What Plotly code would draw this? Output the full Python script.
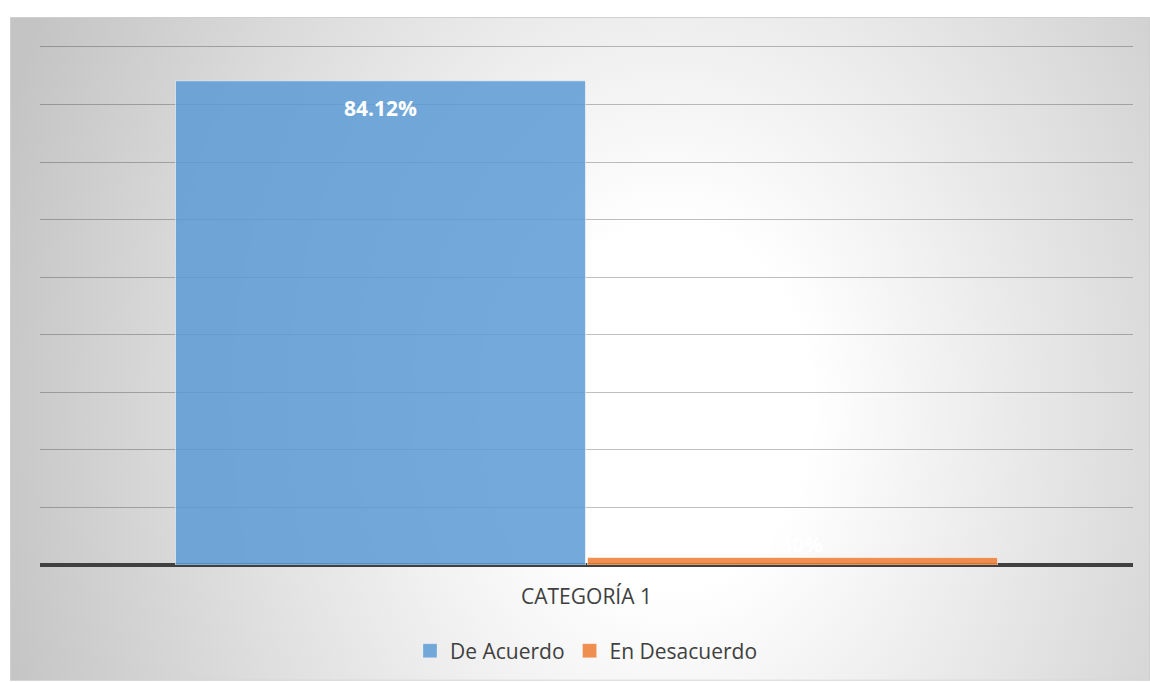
import base64
import plotly.graph_objects as go

categories = ["CATEGORÍA 1"]
series_names = ["De Acuerdo", "En Desacuerdo"]
de_acuerdo = [84.12]
en_desacuerdo = [1.30]
label_texts = ["84.12%", "1.30%"]
colors = ["rgba(91,155,213,0.85)", "rgba(237,125,49,0.85)"]

W, H = 1150, 682
ML, MR, MT, MB = 40, 17, 44, 116
PW, PH = W - ML - MR, H - MT - MB
Y_MAX = 90.52

BARGAP = 0.246
BARGROUPGAP = 0.005
FONT = "Open Sans"

fig = go.Figure()
for name, vals, col in zip(series_names, [de_acuerdo, en_desacuerdo], colors):
    fig.add_trace(go.Bar(
        x=categories, y=vals, name=name, legendgroup=name, showlegend=False,
        marker=dict(color=col, line=dict(color="rgba(255,255,255,0.55)", width=1)),
        hoverinfo="skip",
    ))
# legend entries with square swatches
for name, col in zip(series_names, colors):
    fig.add_trace(go.Scatter(
        x=[None], y=[None], mode="markers", name=name, legendgroup=name,
        marker=dict(symbol="square", size=14, color=col,
                    line=dict(color="rgba(255,255,255,0.5)", width=0.5)),
        hoverinfo="skip",
    ))

# data labels
slot = (1 - BARGAP) / 2
for i, (vals, txt) in enumerate(zip([de_acuerdo, en_desacuerdo], label_texts)):
    xc = -0.5 * (1 - BARGAP) + slot * (i + 0.5)
    big = vals[0] > 10
    fig.add_annotation(
        x=xc, y=vals[0], xref="x", yref="y", text=txt, showarrow=False,
        yanchor="middle", yshift=-27 if big else 14,
        font=dict(family=FONT, size=21, color="white", weight="bold"),
    )

# background radial gradient (chart area)
svg = (
    '<svg xmlns="http://www.w3.org/2000/svg" width="1140" height="665" viewBox="0 0 1140 665" preserveAspectRatio="none">'
    '<defs><radialGradient id="g" gradientUnits="userSpaceOnUse" cx="0" cy="0" r="1" '
    'gradientTransform="translate(660 390) scale(700 900)">'
    '<stop offset="0" stop-color="#ffffff"/>'
    '<stop offset="0.2" stop-color="#ffffff"/>'
    '<stop offset="1" stop-color="#c4c4c4"/>'
    '</radialGradient></defs>'
    '<rect x="0" y="0" width="1140" height="665" fill="url(#g)"/>'
    '<rect x="0.5" y="0.5" width="1139" height="664" fill="none" stroke="#cfcfcf" stroke-width="1"/>'
    '</svg>'
)
src = "data:image/svg+xml;base64," + base64.b64encode(svg.encode()).decode()
fig.add_layout_image(dict(
    source=src, xref="paper", yref="paper",
    x=(10 - ML) / PW, y=(H - MB - 17) / PH,
    sizex=1140 / PW, sizey=665 / PH,
    xanchor="left", yanchor="top", sizing="stretch", layer="below",
))

fig.update_layout(
    width=W, height=H,
    margin=dict(l=ML, r=MR, t=MT, b=MB, pad=0),
    paper_bgcolor="white", plot_bgcolor="rgba(0,0,0,0)",
    barmode="group", bargap=BARGAP, bargroupgap=BARGROUPGAP,
    showlegend=True,
    legend=dict(
        orientation="h", x=0.5, xanchor="center", y=(H - MB - 651) / PH, yanchor="middle",
        font=dict(family=FONT, size=21, color="#404040"),
        bgcolor="rgba(0,0,0,0)", itemclick=False, itemdoubleclick=False,
        traceorder="normal",
    ),
    font=dict(family=FONT, color="#404040"),
)
fig.update_xaxes(
    showgrid=False, showline=False, zeroline=False, ticks="",
    tickfont=dict(family=FONT, size=21, color="#404040"),
    ticklabelstandoff=17,
)
fig.update_yaxes(
    range=[0, Y_MAX], dtick=10, showticklabels=False, ticks="",
    showgrid=True, gridcolor="rgba(0,0,0,0.25)", gridwidth=1.3,
    zeroline=True, zerolinecolor="#404040", zerolinewidth=3.5,
    showline=False,
)

fig.write_html("out.html")
